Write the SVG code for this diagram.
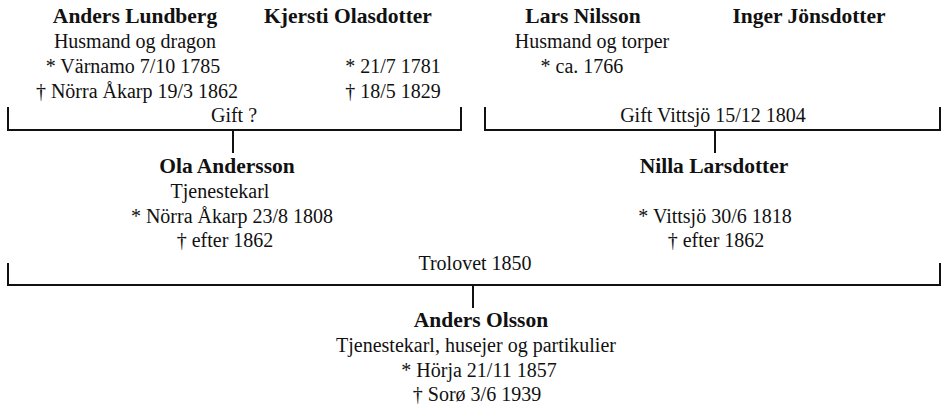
<svg xmlns="http://www.w3.org/2000/svg" width="943" height="411" viewBox="0 0 943 411">
<style>
text{font-family:"Liberation Serif","Times New Roman",serif;font-size:20px;fill:#111;text-anchor:middle}
.n{font-weight:bold;font-size:21.5px}
.c{fill:none;stroke:#111;stroke-width:2}
</style>
<rect width="943" height="411" fill="#fff"/>
<g id="connectors">
<path class="c" d="M8,107V130H461V107M233,130V153"/>
<text x="234" y="122">Gift ?</text>
<path class="c" d="M485,107V130H940V107M715,130V153"/>
<text x="713" y="122">Gift Vittsjö 15/12 1804</text>
<path class="c" d="M8,263V285H940V263M473,285V308"/>
<text x="475" y="270">Trolovet 1850</text>
</g>
<g id="anders-lundberg">
<text class="n" x="135" y="23">Anders Lundberg</text>
<text x="135" y="48">Husmand og dragon</text>
<text x="133" y="73">* Värnamo 7/10 1785</text>
<text x="137" y="98">† Nörra Åkarp 19/3 1862</text>
</g>
<g id="kjersti-olasdotter">
<text class="n" x="348" y="23">Kjersti Olasdotter</text>
<text x="393" y="73">* 21/7 1781</text>
<text x="393" y="98">† 18/5 1829</text>
</g>
<g id="lars-nilsson">
<text class="n" x="583" y="23">Lars Nilsson</text>
<text x="592" y="48">Husmand og torper</text>
<text x="582" y="73">* ca. 1766</text>
</g>
<g id="inger-jonsdotter">
<text class="n" x="809" y="23">Inger Jönsdotter</text>
</g>
<g id="ola-andersson">
<text class="n" x="227" y="173">Ola Andersson</text>
<text x="220" y="198">Tjenestekarl</text>
<text x="232" y="223">* Nörra Åkarp 23/8 1808</text>
<text x="225" y="247">† efter 1862</text>
</g>
<g id="nilla-larsdotter">
<text class="n" x="714" y="173">Nilla Larsdotter</text>
<text x="715" y="223">* Vittsjö 30/6 1818</text>
<text x="716" y="247">† efter 1862</text>
</g>
<g id="anders-olsson">
<text class="n" x="481" y="327">Anders Olsson</text>
<text x="476" y="352">Tjenestekarl, husejer og partikulier</text>
<text x="479" y="377">* Hörja 21/11 1857</text>
<text x="477" y="401">† Sorø 3/6 1939</text>
</g>
</svg>
